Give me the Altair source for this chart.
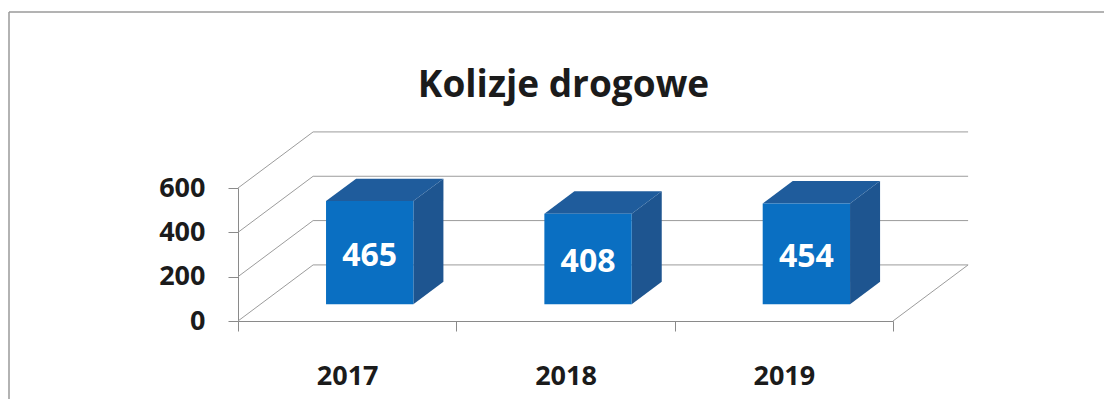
import altair as alt
import pandas as pd

# ---- data -----------------------------------------------------------------
years = ["2017", "2018", "2019"]
values = [465, 408, 454]
y_ticks = [0, 200, 400, 600]
title_text = "Kolizje drogowe"

# ---- style / geometry constants --------------------------------------------
W, H = 655, 133
N = len(years)
DX, DY = 0.344, 253.0      # depth of the 3-D box (band units, value units)
F0, F1 = 0.3, 0.7          # depth slice occupied by the bars
HALF = 0.2                 # half bar width in band units
FRONT, TOP, SIDE = "#0A6FC2", "#1F5C9C", "#1E5590"
GRID = "#9c9c9c"
AX = "#8a8a8a"
TXT = "#1b1b1b"
FONT = "Open Sans"
PAD = {"left": 230, "top": 180, "right": 211, "bottom": 78}

xs = alt.Scale(domain=[0, N], nice=False, zero=False)
ys = alt.Scale(domain=[0, 600], nice=False, zero=False)


def X(f):
    return alt.X(f"{f}:Q", scale=xs, axis=None)


def Y(f, axis=None):
    if axis is None:
        return alt.Y(f"{f}:Q", scale=ys, axis=None)
    return alt.Y(f"{f}:Q", scale=ys, axis=axis)


# ---- derived tables --------------------------------------------------------
bars = pd.DataFrame({"year": years, "v": values, "i": range(N)})
bars["xl"] = bars["i"] + 0.5 - HALF + F0 * DX
bars["xr"] = bars["i"] + 0.5 + HALF + F0 * DX
bars["yb"] = F0 * DY
bars["yt"] = bars["v"] + F0 * DY
bars["xc"] = (bars["xl"] + bars["xr"]) / 2
bars["yc"] = F0 * DY + bars["v"] / 2

side_rows, top_rows = [], []
for i, (yr, v) in enumerate(zip(years, values)):
    xl = i + 0.5 - HALF
    xr = i + 0.5 + HALF
    for f in (F0, F1):
        side_rows.append({"year": yr, "x": xr + f * DX, "yb": f * DY, "yt": v + f * DY})
        top_rows.append({"year": yr, "y": v + f * DY, "xl": xl + f * DX, "xr": xr + f * DX})
side = pd.DataFrame(side_rows)
top = pd.DataFrame(top_rows)

grid = pd.DataFrame({"t": y_ticks})
grid["x0"] = 0.0
grid["x1"] = DX
grid["x2"] = N + DX
grid["tb"] = grid["t"] + DY
floor = pd.DataFrame({"x": [N], "x2": [N + DX], "y": [0.0], "y2": [DY]})

# ---- layers ----------------------------------------------------------------
one = pd.DataFrame({"a": [0]})
frame_top = alt.Chart(one).mark_rule(color="#9a9a9a", strokeWidth=1.5).encode(
    x=alt.value(-229), x2=alt.value(W + PAD["right"]),
    y=alt.value(-176), y2=alt.value(-176),
)
frame_left = alt.Chart(one).mark_rule(color="#9a9a9a", strokeWidth=1.5).encode(
    x=alt.value(-229), x2=alt.value(-229),
    y=alt.value(-176), y2=alt.value(H + PAD["bottom"]),
)

title = alt.Chart(pd.DataFrame({"t": [title_text]})).mark_text(
    font=FONT, fontSize=37, fontWeight="bold", color=TXT,
    align="center", baseline="alphabetic",
).encode(x=alt.value(W / 2 - 2), y=alt.value(-91), text="t:N")

side_grid = alt.Chart(grid).mark_rule(color=GRID, strokeWidth=1).encode(
    x=X("x0"), x2="x1:Q", y=Y("t"), y2="tb:Q"
)
back_grid = alt.Chart(grid).mark_rule(color=GRID, strokeWidth=1).encode(
    x=X("x1"), x2="x2:Q", y=Y("tb"), y2="tb:Q"
)
floor_edge = alt.Chart(floor).mark_rule(color=GRID, strokeWidth=1).encode(
    x=X("x"), x2="x2:Q", y=Y("y"), y2="y2:Q"
)

x_axis = alt.Chart(pd.DataFrame({"year": years})).mark_rect(opacity=0).encode(
    x=alt.X(
        "year:N", sort=years,
        scale=alt.Scale(type="band", paddingInner=0, paddingOuter=0),
        axis=alt.Axis(
            title=None, tickBand="extent", tickSize=10, labelPadding=53,
            labelBaseline="alphabetic", labelAngle=0, labelFont=FONT,
            labelFontSize=27, labelFontWeight="bold", labelColor=TXT,
            domainColor=AX, tickColor=AX, grid=False,
        ),
    ),
    y=alt.value(0), y2=alt.value(1),
)

right_face = alt.Chart(side).mark_area(color=SIDE, orient="vertical").encode(
    x=X("x"), y=Y("yb"), y2="yt:Q", detail="year:N"
)
top_face = alt.Chart(top).mark_area(color=TOP, orient="horizontal").encode(
    y=Y("y"), x=X("xl"), x2="xr:Q", detail="year:N"
)
front_face = alt.Chart(bars).mark_rect(color=FRONT).encode(
    x=X("xl"), x2="xr:Q",
    y=Y("yb", alt.Axis(
        values=y_ticks, title=None, tickSize=10, labelPadding=23,
        labelFont=FONT, labelFontSize=27, labelFontWeight="bold",
        labelColor=TXT, domainColor=AX, tickColor=AX, grid=False,
    )),
    y2="yt:Q",
)
labels = alt.Chart(bars).mark_text(
    font=FONT, fontSize=32, fontWeight="bold", color="white",
    align="center", baseline="middle", dy=3,
).encode(x=X("xc"), y=Y("yc"), text="v:Q")

chart = alt.layer(
    frame_top, frame_left, title, side_grid, back_grid, floor_edge, x_axis,
    right_face, top_face, front_face, labels,
).resolve_scale(x="independent", y="independent").properties(
    width=W, height=H,
    padding=PAD,
    background="white",
    autosize=alt.AutoSizeParams(type="none"),
).configure_view(strokeWidth=0, stroke="transparent")

chart.save("out.html", embed_options={"renderer": "svg", "actions": False})
